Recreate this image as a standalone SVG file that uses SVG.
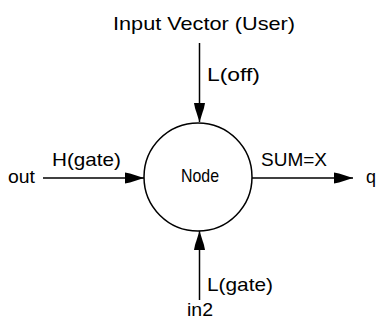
<svg xmlns="http://www.w3.org/2000/svg" width="377" height="321" viewBox="0 0 377 321">
<style>
text{font-family:"Liberation Sans",Arial,sans-serif;font-size:19px;fill:#000}
.ln{stroke:#000;stroke-width:1.5;fill:none}
</style>
<defs>
<marker id="ah" markerUnits="userSpaceOnUse" markerWidth="20" markerHeight="14" refX="19" refY="7" orient="auto">
<polygon points="0,1.5 5,2.5 19,7 5,11.5 0,12.5" fill="#000"/>
</marker>
</defs>
<rect width="377" height="321" fill="#fff"/>
<g id="connectors">
<line class="ln" x1="199.5" y1="43" x2="199.5" y2="122" marker-end="url(#ah)"/>
<line class="ln" x1="199.5" y1="300" x2="199.5" y2="231" marker-end="url(#ah)"/>
<line class="ln" x1="43" y1="178" x2="144" y2="178" marker-end="url(#ah)"/>
<line class="ln" x1="252" y1="178" x2="353" y2="178" marker-end="url(#ah)"/>
<text x="207" y="81" textLength="53" lengthAdjust="spacingAndGlyphs">L(off)</text>
<text x="207" y="290.5" textLength="66" lengthAdjust="spacingAndGlyphs">L(gate)</text>
<text x="52" y="165.5" textLength="69" lengthAdjust="spacingAndGlyphs">H(gate)</text>
<text x="261" y="165.5" textLength="66" lengthAdjust="spacingAndGlyphs">SUM=X</text>
</g>
<g id="node">
<circle class="ln" cx="198" cy="177" r="54"/>
<text x="181" y="182" textLength="38" lengthAdjust="spacingAndGlyphs">Node</text>
</g>
<g id="input-vector">
<text x="113" y="30" textLength="182" lengthAdjust="spacingAndGlyphs">Input Vector (User)</text>
</g>
<g id="out">
<text x="8" y="183" textLength="27" lengthAdjust="spacingAndGlyphs">out</text>
</g>
<g id="q">
<text x="366" y="183" textLength="10" lengthAdjust="spacingAndGlyphs">q</text>
</g>
<g id="in2">
<text x="187" y="316" textLength="26" lengthAdjust="spacingAndGlyphs">in2</text>
</g>
</svg>
